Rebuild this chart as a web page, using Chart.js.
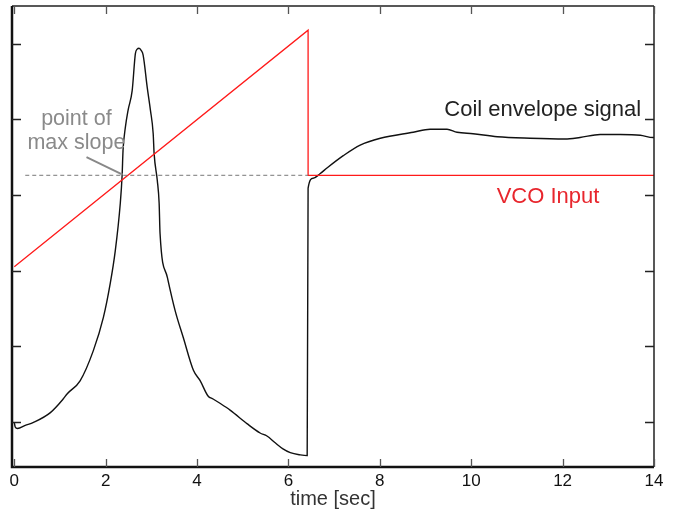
<!DOCTYPE html>
<html>
<head>
<meta charset="utf-8">
<script src="https://cdn.jsdelivr.net/npm/chart.js@4/dist/chart.umd.min.js"></script>
<style>
  html, body { margin: 0; padding: 0; background: #fff; }
  #wrap { width: 674px; height: 516px; }
</style>
</head>
<body>
<div id="wrap"><canvas id="c"></canvas></div>
<script>
// coil envelope signal
var coilX = [0, 0.02, 0.07, 0.24, 0.42, 0.79, 1.07, 1.16, 1.44, 1.73, 1.95, 2.10, 2.21, 2.32, 2.36, 2.38, 2.43, 2.49, 2.58, 2.65, 2.69, 2.73, 2.78, 2.82, 2.91, 2.98, 3.04, 3.06, 3.13, 3.17, 3.19, 3.35, 3.52, 3.70, 3.92, 4.07, 4.24, 4.35, 4.51, 4.73, 5.10, 5.38, 5.53, 5.71, 5.88, 6.04, 6.26, 6.41, 6.43, 6.54, 6.69, 6.85, 7.20, 7.57, 8.01, 8.73, 9.10, 9.47, 9.69, 10.04, 10.57, 11.29, 12.05, 12.38, 12.82, 13.26, 13.70, 13.98, 14];
var coilY = [0.99, 0.93, 0.91, 0.95, 0.99, 1.12, 1.30, 1.37, 1.54, 1.94, 2.38, 2.83, 3.26, 3.89, 4.26, 4.59, 4.89, 5.12, 5.38, 5.87, 5.93, 5.94, 5.91, 5.85, 5.42, 5.12, 4.81, 4.55, 4.19, 3.89, 3.49, 2.91, 2.47, 2.11, 1.68, 1.54, 1.34, 1.30, 1.24, 1.15, 0.97, 0.85, 0.81, 0.72, 0.64, 0.59, 0.56, 0.55, 4.09, 4.22, 4.28, 4.36, 4.52, 4.66, 4.75, 4.83, 4.87, 4.87, 4.83, 4.81, 4.77, 4.75, 4.74, 4.76, 4.80, 4.80, 4.79, 4.76, 4.76];

// VCO input (ramp, drop, hold)
var vcoX = [0, 6.43, 6.43, 14];
var vcoY = [3.05, 6.18, 4.26, 4.26];

// dashed reference level and pointer to the max-slope point
var levelX = [0.24, 6.43];
var levelY = [4.26, 4.26];
var pointerX = [1.58, 2.37];
var pointerY = [4.50, 4.27];

var xTicks = [0, 2, 4, 6, 8, 10, 12, 14];
var yTicks = [1, 2, 3, 4, 5, 6];

function pts(xs, ys) {
  return xs.map(function (x, i) { return { x: x, y: ys[i] }; });
}

var FONT = '"Liberation Sans", Arial, Helvetica, sans-serif';

var framePlugin = {
  id: 'frame',
  afterDraw: function (chart) {
    var ctx = chart.ctx, a = chart.chartArea;
    var xs = chart.scales.x, ys = chart.scales.y;
    ctx.save();
    ctx.strokeStyle = '#222';
    ctx.lineWidth = 1.5;
    ctx.beginPath();
    ctx.moveTo(a.left, a.top); ctx.lineTo(a.right, a.top);
    ctx.moveTo(a.right, a.top); ctx.lineTo(a.right, a.bottom);
    ctx.stroke();
    ctx.strokeStyle = '#111';
    ctx.lineWidth = 2.5;
    ctx.beginPath();
    ctx.moveTo(a.left, a.top); ctx.lineTo(a.left, a.bottom); ctx.lineTo(a.right, a.bottom);
    ctx.stroke();
    // inward tick marks
    ctx.strokeStyle = '#555';
    ctx.lineWidth = 1.3;
    ctx.beginPath();
    xTicks.forEach(function (v) {
      var px = Math.round(xs.getPixelForValue(v)) + 0.5;
      ctx.moveTo(px, a.bottom); ctx.lineTo(px, a.bottom - 8);
      ctx.moveTo(px, a.top); ctx.lineTo(px, a.top + 8);
    });
    ctx.stroke();
    ctx.strokeStyle = '#222';
    ctx.beginPath();
    yTicks.forEach(function (v) {
      var py = Math.round(ys.getPixelForValue(v)) + 0.5;
      ctx.moveTo(a.left, py); ctx.lineTo(a.left + 9, py);
      ctx.moveTo(a.right, py); ctx.lineTo(a.right - 9, py);
    });
    ctx.stroke();

    // text labels
    ctx.textBaseline = 'middle';
    ctx.font = '22px ' + FONT;
    ctx.fillStyle = '#222';
    ctx.textAlign = 'right';
    ctx.fillText('Coil envelope signal', xs.getPixelForValue(13.72), ys.getPixelForValue(5.12));
    ctx.fillStyle = '#e8262d';
    ctx.textAlign = 'center';
    ctx.fillText('VCO Input', xs.getPixelForValue(11.68), ys.getPixelForValue(3.97));
    ctx.fillStyle = '#8a8a8a';
    ctx.font = '21.5px ' + FONT;
    ctx.fillText('point of', xs.getPixelForValue(1.36), ys.getPixelForValue(5.01));
    ctx.fillText('max slope', xs.getPixelForValue(1.36), ys.getPixelForValue(4.68));
    ctx.restore();
  }
};

new Chart(document.getElementById('c'), {
  type: 'scatter',
  data: {
    datasets: [
      { data: pts(levelX, levelY), showLine: true, borderColor: '#777', borderWidth: 1, borderDash: [4, 3], pointRadius: 0 },
      { data: pts(pointerX, pointerY), showLine: true, borderColor: '#888', borderWidth: 2, pointRadius: 0 },
      { data: pts(vcoX, vcoY), showLine: true, borderColor: '#ff1a1a', borderWidth: 1.3, pointRadius: 0 },
      { data: pts(coilX, coilY), showLine: true, borderColor: '#111', borderWidth: 1.4, pointRadius: 0, cubicInterpolationMode: 'monotone' }
    ]
  },
  options: {
    responsive: true,
    maintainAspectRatio: false,
    animation: false,
    layout: { padding: { left: 12, right: 20, top: 6, bottom: 7 } },
    plugins: { legend: { display: false }, tooltip: { enabled: false } },
    scales: {
      x: {
        type: 'linear',
        min: -0.05,
        max: 14,
        afterBuildTicks: function (s) { s.ticks = xTicks.map(function (v) { return { value: v }; }); },
        grid: { display: false, drawTicks: false },
        border: { display: false },
        ticks: { padding: 6, color: '#111', font: { family: FONT, size: 17, lineHeight: 1 } },
        title: { display: true, text: 'time [sec]', color: '#333', padding: { top: -7, bottom: 0 }, font: { family: FONT, size: 20, lineHeight: 1 } }
      },
      y: {
        type: 'linear',
        display: false,
        min: 0.4,
        max: 6.5,
        afterBuildTicks: function (s) { s.ticks = yTicks.map(function (v) { return { value: v }; }); }
      }
    }
  },
  plugins: [framePlugin]
});
</script>
</body>
</html>
